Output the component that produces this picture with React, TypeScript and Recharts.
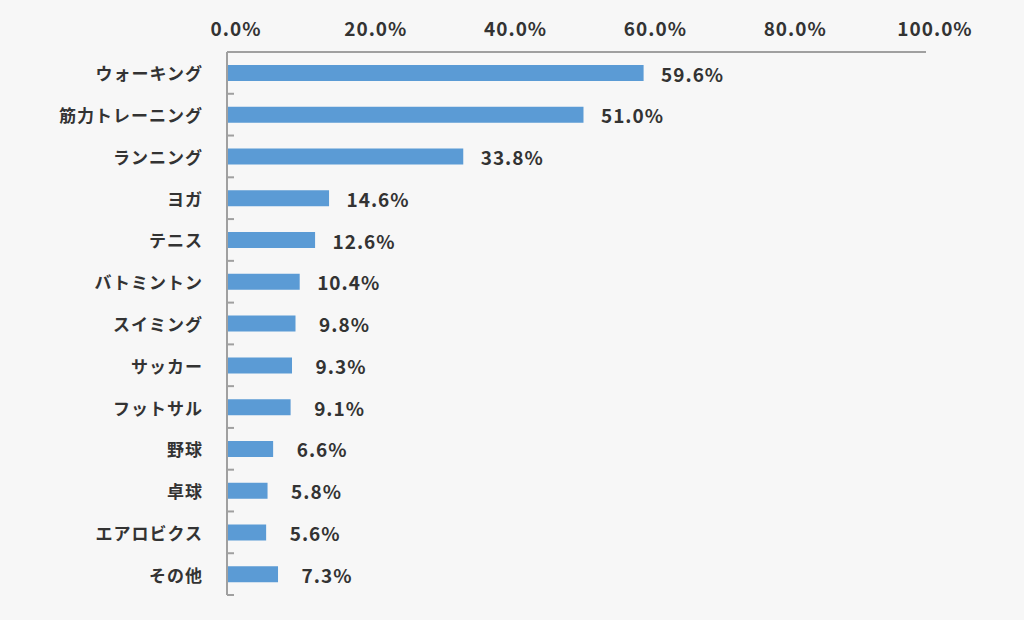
import React from 'react';
import { BarChart, Bar, XAxis, YAxis, LabelList } from 'recharts';

const categories = ['ウォーキング', '筋力トレーニング', 'ランニング', 'ヨガ', 'テニス', 'バトミントン', 'スイミング', 'サッカー', 'フットサル', '野球', '卓球', 'エアロビクス', 'その他'];
const values = [59.6, 51.0, 33.8, 14.6, 12.6, 10.4, 9.8, 9.3, 9.1, 6.6, 5.8, 5.6, 7.3];
const xTicks = [0, 20, 40, 60, 80, 100];

const data = categories.map((name, i) => ({ name, value: values[i] }));

const FONT = '"Noto Sans CJK JP", "Noto Sans", sans-serif';
const TEXT = '#333333';
const AXIS = '#a0a0a0';
const BAR = '#5b9bd5';

const YTick = (props: any) => {
  const { x, y, payload, index } = props;
  const half = payload && payload.offset ? payload.offset : 20.9;
  const last = index === categories.length - 1;
  return (
    <g>
      <text x={x - 24} y={y} textAnchor="end" dominantBaseline="central" fontFamily={FONT} fontWeight={700} fontSize={17} letterSpacing={1} fill={TEXT}>
        {payload.value}
      </text>
      <line x1={x} x2={x + 7} y1={y - half} y2={y - half} stroke={AXIS} strokeWidth={2} />
      {last && <line x1={x} x2={x + 7} y1={y + half} y2={y + half} stroke={AXIS} strokeWidth={2} />}
    </g>
  );
};

const XTick = (props: any) => {
  const { x, y, payload } = props;
  return (
    <text x={x + 9} y={y - 16} textAnchor="middle" fontFamily={FONT} fontWeight={700} fontSize={19} letterSpacing={1} fill={TEXT}>
      {Number(payload.value).toFixed(1) + '%'}
    </text>
  );
};

const ValueLabel = (props: any) => {
  const { x, y, width, height, value } = props;
  return (
    <text x={x + width + 49} y={y + height / 2} textAnchor="middle" dominantBaseline="central" fontFamily={FONT} fontWeight={700} fontSize={19} letterSpacing={1} fill={TEXT}>
      {Number(value).toFixed(1) + '%'}
    </text>
  );
};

export default function App() {
  return (
    <div style={{ position: 'absolute', left: 0, top: 0, width: 1024, height: 620, background: '#f7f7f7' }}>
      <BarChart
        width={1024}
        height={620}
        data={data}
        layout="vertical"
        margin={{ top: 0, right: 98, bottom: 25, left: 0 }}
        barCategoryGap={0}
      >
        <XAxis
          type="number"
          orientation="top"
          domain={[0, 100]}
          ticks={xTicks}
          height={52}
          tickLine={false}
          tickSize={0}
          tickMargin={0}
          axisLine={{ stroke: AXIS, strokeWidth: 2 }}
          tick={<XTick />}
          interval={0}
        />
        <YAxis
          type="category"
          dataKey="name"
          width={227}
          tickLine={false}
          tickSize={0}
          tickMargin={0}
          axisLine={{ stroke: AXIS, strokeWidth: 2 }}
          tick={<YTick />}
          interval={0}
        />
        <Bar dataKey="value" fill={BAR} barSize={16} isAnimationActive={false}>
          <LabelList dataKey="value" content={<ValueLabel />} />
        </Bar>
      </BarChart>
    </div>
  );
}
